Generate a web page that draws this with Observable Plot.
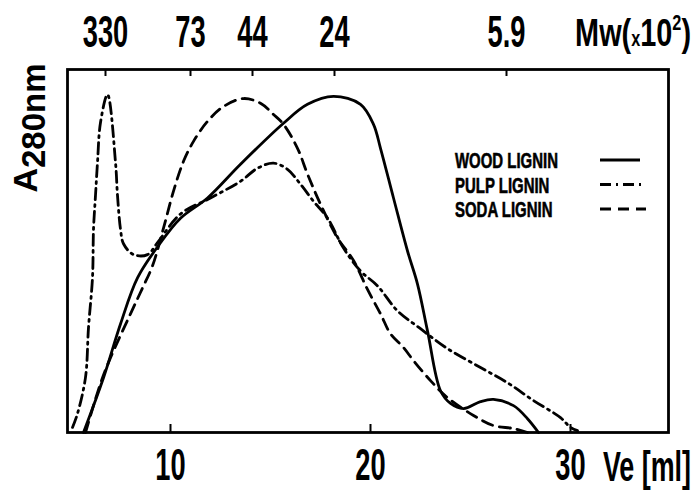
<!DOCTYPE html>
<html>
<head>
<meta charset="utf-8">
<script src="https://cdn.jsdelivr.net/npm/d3@7"></script>
<script src="https://cdn.jsdelivr.net/npm/@observablehq/plot@0.6"></script>
<style>
  html, body { margin: 0; padding: 0; background: #fff; }
  #chart { position: relative; width: 694px; height: 491px; }
  svg { display: block; }
</style>
</head>
<body>
<div id="chart"></div>
<script>
// ---- data ----
const woodVe = [5.65, 6.65, 7.5, 8.35, 9.4, 10.5, 11.85, 13.5, 15.65, 16.85, 18.15, 19.5, 20.15, 20.5, 21.15, 21.85, 22.35, 22.85, 23.5, 24.0, 24.65, 25.5, 26.15, 27.15, 27.85, 28.4];
const woodA  = [0, 15.1, 29.9, 42.6, 51.5, 59, 64.6, 73.9, 85.2, 90.4, 92.6, 90.4, 84.9, 78.3, 64.6, 50, 40.9, 28, 11.5, 8, 6.6, 8.5, 9.1, 7.4, 3.8, 0];

const pulpVe = [5.1, 5.35, 5.75, 5.9, 6.1, 6.15, 6.25, 6.35, 6.5, 6.85, 7.25, 7.35, 7.5, 7.65, 8.15, 8.85, 9.35, 10.5, 12.0, 13.5, 14.35, 15.15, 15.85, 16.5, 17.15, 17.85, 18.65, 19.5, 20.35, 21.35, 22.5, 23.85, 25.5, 26.85, 28.15, 29.5, 30.0, 30.35];
const pulpA  = [1.4, 5.2, 15.2, 28.9, 42.7, 56, 65.3, 74.4, 85.4, 93.1, 74.4, 65.3, 56, 52, 49, 49, 52.3, 60.2, 64.6, 69.2, 72.8, 74.2, 72.5, 68.4, 63.7, 59.1, 50.8, 44.5, 40.4, 33.5, 28.6, 23.1, 17.9, 13.7, 8.8, 4.1, 1.4, 0.5];

const sodaVe = [5.75, 6.5, 7.0, 8.0, 8.6, 9.1, 9.65, 10.15, 10.65, 11.15, 11.85, 12.65, 13.65, 14.5, 15.15, 15.65, 16.35, 16.85, 17.5, 18.35, 19.15, 19.85, 20.5, 21.0, 21.65, 22.15, 23.0, 23.85, 25.15, 26.15, 27.15, 27.85];
const sodaA  = [0, 13.5, 20.6, 32.7, 39.8, 45.9, 56.3, 66.5, 74.7, 80.2, 85.7, 89.8, 92, 90.7, 87.6, 84.9, 78.3, 71.2, 62.9, 53.6, 47.4, 39.4, 32.7, 27.2, 23.4, 19.8, 14.3, 9.6, 4.7, 1.9, 1.1, 0];

const veTicks = [10, 20, 30];
const mwTickVe = [6.75, 11.0, 14.1, 18.2, 26.8];
const mwTickLabels = ["330", "73", "44", "24", "5.9"];

const seriesNames = ["WOOD LIGNIN", "PULP LIGNIN", "SODA LIGNIN"];
const seriesDash = ["none", "11,5,2,5", "11,7"];

// ---- build tables ----
const toRows = (xs, ys, name) => xs.map((x, i) => ({ve: x, a: ys[i], name}));
const wood = toRows(woodVe, woodA, seriesNames[0]);
const pulp = toRows(pulpVe, pulpA, seriesNames[1]);
const soda = toRows(sodaVe, sodaA, seriesNames[2]);
const mwTicks = mwTickVe.map((v, i) => ({ve: v, label: mwTickLabels[i]}));

const W = 694, H = 491;
const mT = 69, mB = 59, mL = 67, mR = 26;
const innerH = H - mT - mB;
const FONT = "'Liberation Sans', Arial, sans-serif";
const SX = 0.62; // horizontal squeeze to mimic the condensed lettering

const lineOpts = {x: "ve", y: "a", stroke: "#000", strokeWidth: 2.8, curve: "catmull-rom"};

const chart = Plot.plot({
  width: W,
  height: H,
  marginTop: mT,
  marginBottom: mB,
  marginLeft: mL,
  marginRight: mR,
  style: {fontFamily: FONT, fontSize: "44px", background: "#fff", color: "#000"},
  x: {domain: [4.85, 34.9]},
  y: {domain: [0, 100], axis: null},
  marks: [
    Plot.frame({stroke: "#000", strokeWidth: 2.8}),
    // bottom ticks (pointing inward)
    Plot.tickX(veTicks, {x: d => d, insetTop: innerH - 8, strokeWidth: 2}),
    // top ticks (pointing inward)
    Plot.tickX(mwTicks, {x: "ve", insetBottom: innerH - 7, strokeWidth: 2}),
    Plot.axisX(veTicks, {anchor: "bottom", tickSize: 0, tickPadding: 16, label: null, fontWeight: "bold"}),
    Plot.axisX(mwTicks.map(d => d.ve), {anchor: "top", tickSize: 0, tickPadding: 23, label: null, fontWeight: "bold",
      tickFormat: v => mwTickLabels[mwTickVe.indexOf(v)]}),
    Plot.line(wood, {...lineOpts}),
    Plot.line(pulp, {...lineOpts, strokeDasharray: seriesDash[1]}),
    Plot.line(soda, {...lineOpts, strokeDasharray: seriesDash[2]})
  ]
});

document.getElementById("chart").appendChild(chart);

const svg = d3.select(chart);

// squeeze axis tick labels horizontally around their anchor
svg.selectAll("g[aria-label='x-axis tick label'] text").each(function () {
  const t = this.getAttribute("transform") || "";
  this.setAttribute("transform", t + ` scale(${SX},1)`);
});

// y label A280nm (rotated, with subscript)
const yl = svg.append("text")
  .attr("transform", "translate(37,128) rotate(-90)")
  .attr("text-anchor", "middle")
  .attr("font-family", FONT)
  .attr("font-weight", "bold")
  .attr("font-size", 34)
  .attr("fill", "#000");
yl.append("tspan").text("A");
yl.append("tspan").attr("dy", 8).attr("font-size", 33).text("280nm");

// top right: Mw(x10²)
const mw = svg.append("text")
  .attr("transform", "translate(691,46) scale(0.74,1)")
  .attr("text-anchor", "end")
  .attr("font-family", FONT)
  .attr("font-weight", "bold")
  .attr("font-size", 39)
  .attr("fill", "#000");
mw.append("tspan").text("Mw(");
mw.append("tspan").attr("font-size", 22).text("x");
mw.append("tspan").text("10");
mw.append("tspan").attr("font-size", 22).attr("dy", -16).text("2");
mw.append("tspan").attr("dy", 16).text(")");

// bottom right: Ve [ml]
svg.append("text")
  .attr("transform", "translate(691,481) scale(0.64,1)")
  .attr("text-anchor", "end")
  .attr("font-family", FONT)
  .attr("font-weight", "bold")
  .attr("font-size", 42)
  .attr("fill", "#000")
  .text("Ve [ml]");

// legend
const lg = svg.append("g");
seriesNames.forEach((name, i) => {
  const y = 160 + i * 24.5;
  lg.append("text")
    .attr("transform", `translate(455,${y + 8}) scale(0.68,1)`)
    .attr("text-anchor", "start")
    .attr("font-family", FONT)
    .attr("font-weight", "bold")
    .attr("font-size", 22)
    .attr("stroke", "#000")
    .attr("stroke-width", 0.6)
    .attr("fill", "#000")
    .text(name);
  lg.append("line")
    .attr("x1", 600).attr("x2", i === 0 ? 640 : 646)
    .attr("y1", y).attr("y2", y)
    .attr("stroke", "#000")
    .attr("stroke-width", 2.8)
    .attr("stroke-dasharray", seriesDash[i]);
});
</script>
</body>
</html>
